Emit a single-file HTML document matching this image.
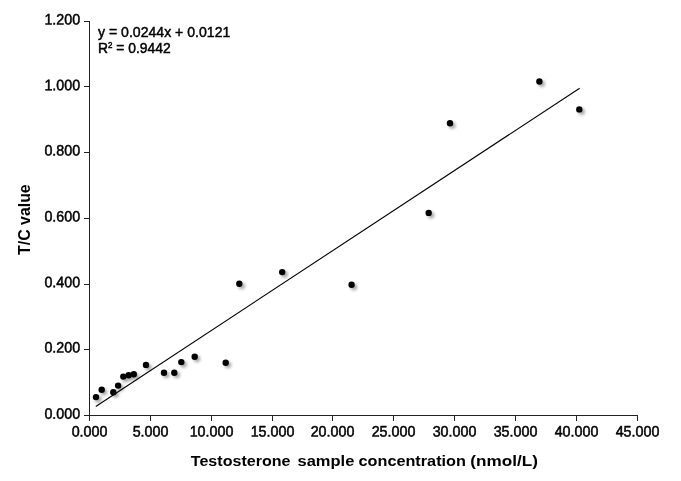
<!DOCTYPE html>
<html><head><meta charset="utf-8"><title>chart</title>
<style>
html,body{margin:0;padding:0;background:#fff;}
body{width:681px;height:481px;overflow:hidden;font-family:"Liberation Sans",sans-serif;}
svg{display:block;will-change:transform;font-family:"Liberation Sans",sans-serif;}
.t{font-size:15.1px;fill:#000;stroke:#000;stroke-width:0.5px;}
.e{font-size:14px;fill:#000;stroke:#000;stroke-width:0.45px;}
.b{font-size:15.5px;font-weight:bold;fill:#000;}
</style></head><body>
<svg width="681" height="481" viewBox="0 0 681 481">
<defs><filter id="sh" x="-100%" y="-100%" width="300%" height="300%"><feGaussianBlur stdDeviation="1.8"/></filter></defs>


<g stroke="#222" stroke-width="1" shape-rendering="crispEdges" fill="none">
<line x1="89.5" y1="21.5" x2="89.5" y2="421.0"/>
<line x1="84.0" y1="415.5" x2="638.0" y2="415.5"/>
<line x1="84.0" y1="415.5" x2="89.5" y2="415.5"/>
<line x1="84.0" y1="349.5" x2="89.5" y2="349.5"/>
<line x1="84.0" y1="284.5" x2="89.5" y2="284.5"/>
<line x1="84.0" y1="218.5" x2="89.5" y2="218.5"/>
<line x1="84.0" y1="152.5" x2="89.5" y2="152.5"/>
<line x1="84.0" y1="86.5" x2="89.5" y2="86.5"/>
<line x1="84.0" y1="21.5" x2="89.5" y2="21.5"/>
<line x1="89.5" y1="415.5" x2="89.5" y2="421.0"/>
<line x1="150.5" y1="415.5" x2="150.5" y2="421.0"/>
<line x1="211.5" y1="415.5" x2="211.5" y2="421.0"/>
<line x1="272.5" y1="415.5" x2="272.5" y2="421.0"/>
<line x1="332.5" y1="415.5" x2="332.5" y2="421.0"/>
<line x1="393.5" y1="415.5" x2="393.5" y2="421.0"/>
<line x1="454.5" y1="415.5" x2="454.5" y2="421.0"/>
<line x1="515.5" y1="415.5" x2="515.5" y2="421.0"/>
<line x1="576.5" y1="415.5" x2="576.5" y2="421.0"/>
<line x1="637.5" y1="415.5" x2="637.5" y2="421.0"/>
</g>
<g class="t" text-anchor="end">
<text transform="translate(80.1,418.7) rotate(0.03) scale(0.945,1)">0.000</text>
<text transform="translate(80.1,352.5) rotate(0.03) scale(0.945,1)">0.200</text>
<text transform="translate(80.1,287.3) rotate(0.03) scale(0.945,1)">0.400</text>
<text transform="translate(80.1,221.5) rotate(0.03) scale(0.945,1)">0.600</text>
<text transform="translate(80.1,155.6) rotate(0.03) scale(0.945,1)">0.800</text>
<text transform="translate(80.1,90.2) rotate(0.03) scale(0.945,1)">1.000</text>
<text transform="translate(80.1,24.6) rotate(0.03) scale(0.945,1)">1.200</text>
</g>
<g class="t" text-anchor="middle">
<text transform="translate(89.5,436.6) rotate(0.03) scale(0.945,1)">0.000</text>
<text transform="translate(150.5,436.6) rotate(0.03) scale(0.945,1)">5.000</text>
<text transform="translate(211.5,436.6) rotate(0.03) scale(0.945,1)">10.000</text>
<text transform="translate(272.5,436.6) rotate(0.03) scale(0.945,1)">15.000</text>
<text transform="translate(332.5,436.6) rotate(0.03) scale(0.945,1)">20.000</text>
<text transform="translate(393.5,436.6) rotate(0.03) scale(0.945,1)">25.000</text>
<text transform="translate(454.5,436.6) rotate(0.03) scale(0.945,1)">30.000</text>
<text transform="translate(515.5,436.6) rotate(0.03) scale(0.945,1)">35.000</text>
<text transform="translate(576.5,436.6) rotate(0.03) scale(0.945,1)">40.000</text>
<text transform="translate(637.5,436.6) rotate(0.03) scale(0.945,1)">45.000</text>
</g>
<text class="e" x="98" y="36.7" textLength="132.3" lengthAdjust="spacingAndGlyphs">y = 0.0244x + 0.0121</text>
<text class="e" transform="translate(98,52.5) scale(0.99,1.08)">R<tspan font-size="8" dy="-4.5">2</tspan><tspan dy="4.5"> = 0.9442</tspan></text>
<text class="b" x="190.8" y="465.5" textLength="99.7" lengthAdjust="spacingAndGlyphs">Testosterone</text>
<text class="b" x="297.5" y="465.5" textLength="56.8" lengthAdjust="spacingAndGlyphs">sample</text>
<text class="b" x="358.5" y="465.5" textLength="107.4" lengthAdjust="spacingAndGlyphs">concentration</text>
<text class="b" x="470.3" y="465.5" textLength="67.6" lengthAdjust="spacingAndGlyphs">(nmol/L)</text>
<text class="b" transform="translate(29.6,254.9) rotate(-90)" style="font-size:16.4px" textLength="70.6" lengthAdjust="spacingAndGlyphs">T/C value</text>
<line x1="95.80" y1="406.49" x2="579.66" y2="88.17" stroke="#000" stroke-width="1.1"/>
<g fill="#000" opacity="0.34" filter="url(#sh)">
<circle cx="98.3" cy="399.4" r="3.3"/>
<circle cx="104.0" cy="392.1" r="3.3"/>
<circle cx="115.6" cy="394.5" r="3.3"/>
<circle cx="120.4" cy="387.9" r="3.3"/>
<circle cx="125.6" cy="378.9" r="3.3"/>
<circle cx="130.9" cy="377.6" r="3.3"/>
<circle cx="136.1" cy="376.6" r="3.3"/>
<circle cx="148.3" cy="367.2" r="3.3"/>
<circle cx="166.3" cy="375.0" r="3.3"/>
<circle cx="176.7" cy="375.0" r="3.3"/>
<circle cx="183.6" cy="364.4" r="3.3"/>
<circle cx="197.0" cy="359.0" r="3.3"/>
<circle cx="228.0" cy="365.0" r="3.3"/>
<circle cx="241.7" cy="286.0" r="3.3"/>
<circle cx="284.5" cy="274.4" r="3.3"/>
<circle cx="353.9" cy="287.1" r="3.3"/>
<circle cx="431.0" cy="215.2" r="3.3"/>
<circle cx="452.3" cy="125.6" r="3.3"/>
<circle cx="541.7" cy="83.8" r="3.3"/>
<circle cx="581.6" cy="111.7" r="3.3"/>
</g>
<g fill="#000">
<circle cx="96.0" cy="397.1" r="3.2"/>
<circle cx="101.7" cy="389.8" r="3.2"/>
<circle cx="113.3" cy="392.2" r="3.2"/>
<circle cx="118.1" cy="385.6" r="3.2"/>
<circle cx="123.3" cy="376.6" r="3.2"/>
<circle cx="128.6" cy="375.3" r="3.2"/>
<circle cx="133.8" cy="374.3" r="3.2"/>
<circle cx="146.0" cy="364.9" r="3.2"/>
<circle cx="164.0" cy="372.7" r="3.2"/>
<circle cx="174.3" cy="372.7" r="3.2"/>
<circle cx="181.3" cy="362.1" r="3.2"/>
<circle cx="194.7" cy="356.7" r="3.2"/>
<circle cx="225.7" cy="362.7" r="3.2"/>
<circle cx="239.3" cy="283.7" r="3.2"/>
<circle cx="282.2" cy="272.1" r="3.2"/>
<circle cx="351.6" cy="284.8" r="3.2"/>
<circle cx="428.7" cy="212.9" r="3.2"/>
<circle cx="450.0" cy="123.3" r="3.2"/>
<circle cx="539.4" cy="81.5" r="3.2"/>
<circle cx="579.3" cy="109.4" r="3.2"/>
</g>
</svg></body></html>
